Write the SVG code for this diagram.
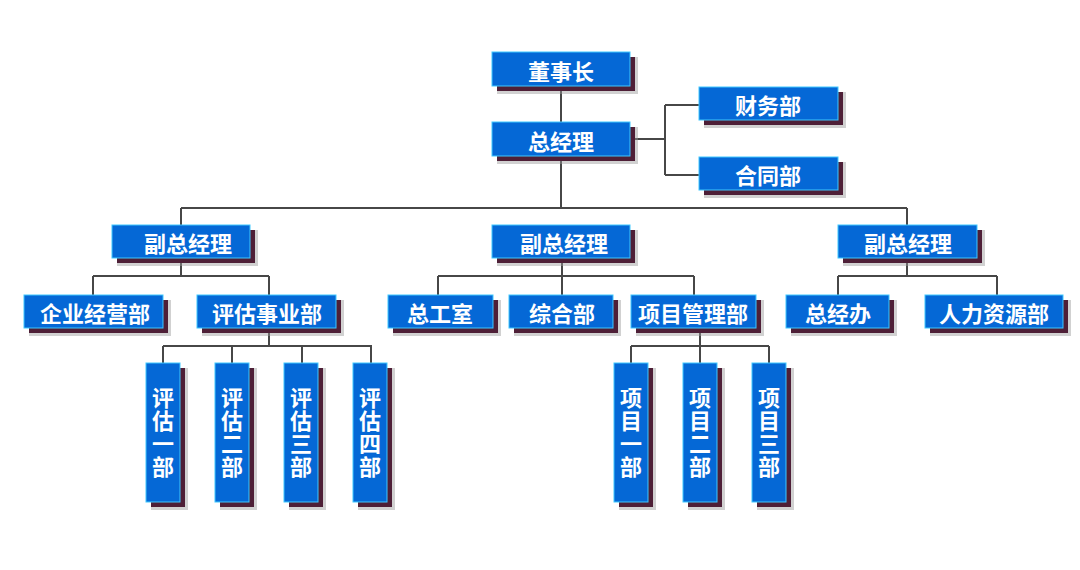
<svg xmlns="http://www.w3.org/2000/svg" width="1080" height="570" viewBox="0 0 1080 570">
<style>
.sh{fill:#4e1f37}
.sh2{fill:#9a9a9a;opacity:0.45}
.box{fill:#0568d6;stroke:#3fc8ff;stroke-width:1}
.t{fill:#ffffff;font-family:"Noto Sans CJK SC","Noto Sans",sans-serif;font-weight:bold;font-size:22px;text-anchor:middle;dominant-baseline:central}
.v{fill:#ffffff;font-family:"Noto Sans CJK SC","Noto Sans",sans-serif;font-weight:bold;font-size:22px;text-anchor:middle;writing-mode:vertical-rl;letter-spacing:1px}
.c{stroke:#474747;stroke-width:2;fill:none}
</style>
<rect width="1080" height="570" fill="#ffffff"/>
<g id="connectors">
<path class="c" d="M561,86V122M561,155V208M630,139H665M665,105V175M665,105H699M665,175H699"/>
<path class="c" d="M181,208H907M181,208V225M907,208V225"/>
<path class="c" d="M181,258V276M93,276H269M93,276V295M269,276V295"/>
<path class="c" d="M562,258V295M438,276H694M438,276V295M694,276V295"/>
<path class="c" d="M907,258V276M838,276H997M838,276V295M997,276V295"/>
<path class="c" d="M269,328V346M163,346H372M163,346V363M232,346V363M302,346V363M371,346V363"/>
<path class="c" d="M700,328V346M631,346H769M631,346V363M700,346V363M769,346V363"/>
</g>
<g id="n-dongshizhang"><rect class="sh2" x="497" y="57" width="141" height="37"/><rect class="sh" x="497" y="57" width="138" height="34"/><rect class="box" x="492" y="52" width="138" height="34"/><text class="t" x="561" y="70">董事长</text></g>
<g id="n-zongjingli"><rect class="sh2" x="497" y="127" width="141" height="37"/><rect class="sh" x="497" y="127" width="138" height="34"/><rect class="box" x="492" y="122" width="138" height="34"/><text class="t" x="561" y="140">总经理</text></g>
<g id="n-caiwu"><rect class="sh2" x="704" y="92" width="142" height="36"/><rect class="sh" x="704" y="92" width="139" height="33"/><rect class="box" x="699" y="87" width="139" height="33"/><text class="t" x="768" y="104">财务部</text></g>
<g id="n-hetong"><rect class="sh2" x="704" y="162" width="142" height="36"/><rect class="sh" x="704" y="162" width="139" height="33"/><rect class="box" x="699" y="157" width="139" height="33"/><text class="t" x="768" y="174">合同部</text></g>
<g id="n-fz1"><rect class="sh2" x="117" y="230" width="141" height="36"/><rect class="sh" x="117" y="230" width="138" height="33"/><rect class="box" x="112" y="225" width="138" height="33"/><text class="t" x="188" y="242">副总经理</text></g>
<g id="n-fz2"><rect class="sh2" x="497" y="230" width="141" height="36"/><rect class="sh" x="497" y="230" width="138" height="33"/><rect class="box" x="492" y="225" width="138" height="33"/><text class="t" x="564" y="242">副总经理</text></g>
<g id="n-fz3"><rect class="sh2" x="843" y="230" width="142" height="36"/><rect class="sh" x="843" y="230" width="139" height="33"/><rect class="box" x="838" y="225" width="139" height="33"/><text class="t" x="908" y="242">副总经理</text></g>
<g id="n-qiye"><rect class="sh2" x="29" y="300" width="142" height="36"/><rect class="sh" x="29" y="300" width="139" height="33"/><rect class="box" x="24" y="295" width="139" height="33"/><text class="t" x="95" y="312">企业经营部</text></g>
<g id="n-pinggu"><rect class="sh2" x="202" y="300" width="142" height="36"/><rect class="sh" x="202" y="300" width="139" height="33"/><rect class="box" x="197" y="295" width="139" height="33"/><text class="t" x="267" y="312">评估事业部</text></g>
<g id="n-zonggong"><rect class="sh2" x="393" y="300" width="108" height="36"/><rect class="sh" x="393" y="300" width="105" height="33"/><rect class="box" x="388" y="295" width="105" height="33"/><text class="t" x="440" y="312">总工室</text></g>
<g id="n-zonghe"><rect class="sh2" x="514" y="300" width="107" height="36"/><rect class="sh" x="514" y="300" width="104" height="33"/><rect class="box" x="509" y="295" width="104" height="33"/><text class="t" x="562" y="312">综合部</text></g>
<g id="n-xiangmu"><rect class="sh2" x="636" y="300" width="128" height="36"/><rect class="sh" x="636" y="300" width="125" height="33"/><rect class="box" x="631" y="295" width="125" height="33"/><text class="t" x="693" y="312">项目管理部</text></g>
<g id="n-zongjingban"><rect class="sh2" x="791" y="300" width="106" height="36"/><rect class="sh" x="791" y="300" width="103" height="33"/><rect class="box" x="786" y="295" width="103" height="33"/><text class="t" x="838" y="312">总经办</text></g>
<g id="n-renli"><rect class="sh2" x="930" y="300" width="141" height="36"/><rect class="sh" x="930" y="300" width="138" height="33"/><rect class="box" x="925" y="295" width="138" height="33"/><text class="t" x="994" y="312">人力资源部</text></g>
<g id="n-pg1"><rect class="sh2" x="151" y="368" width="37" height="142"/><rect class="sh" x="151" y="368" width="34" height="139"/><rect class="box" x="146" y="363" width="34" height="139"/><text class="v" x="163" y="433">评估一部</text></g>
<g id="n-pg2"><rect class="sh2" x="220" y="368" width="37" height="142"/><rect class="sh" x="220" y="368" width="34" height="139"/><rect class="box" x="215" y="363" width="34" height="139"/><text class="v" x="232" y="433">评估二部</text></g>
<g id="n-pg3"><rect class="sh2" x="289" y="368" width="37" height="142"/><rect class="sh" x="289" y="368" width="34" height="139"/><rect class="box" x="284" y="363" width="34" height="139"/><text class="v" x="301" y="433">评估三部</text></g>
<g id="n-pg4"><rect class="sh2" x="358" y="368" width="37" height="142"/><rect class="sh" x="358" y="368" width="34" height="139"/><rect class="box" x="353" y="363" width="34" height="139"/><text class="v" x="370" y="433">评估四部</text></g>
<g id="n-xm1"><rect class="sh2" x="619" y="368" width="37" height="142"/><rect class="sh" x="619" y="368" width="34" height="139"/><rect class="box" x="614" y="363" width="34" height="139"/><text class="v" x="631" y="433">项目一部</text></g>
<g id="n-xm2"><rect class="sh2" x="688" y="368" width="37" height="142"/><rect class="sh" x="688" y="368" width="34" height="139"/><rect class="box" x="683" y="363" width="34" height="139"/><text class="v" x="700" y="433">项目二部</text></g>
<g id="n-xm3"><rect class="sh2" x="757" y="368" width="37" height="142"/><rect class="sh" x="757" y="368" width="34" height="139"/><rect class="box" x="752" y="363" width="34" height="139"/><text class="v" x="769" y="433">项目三部</text></g>
</svg>
